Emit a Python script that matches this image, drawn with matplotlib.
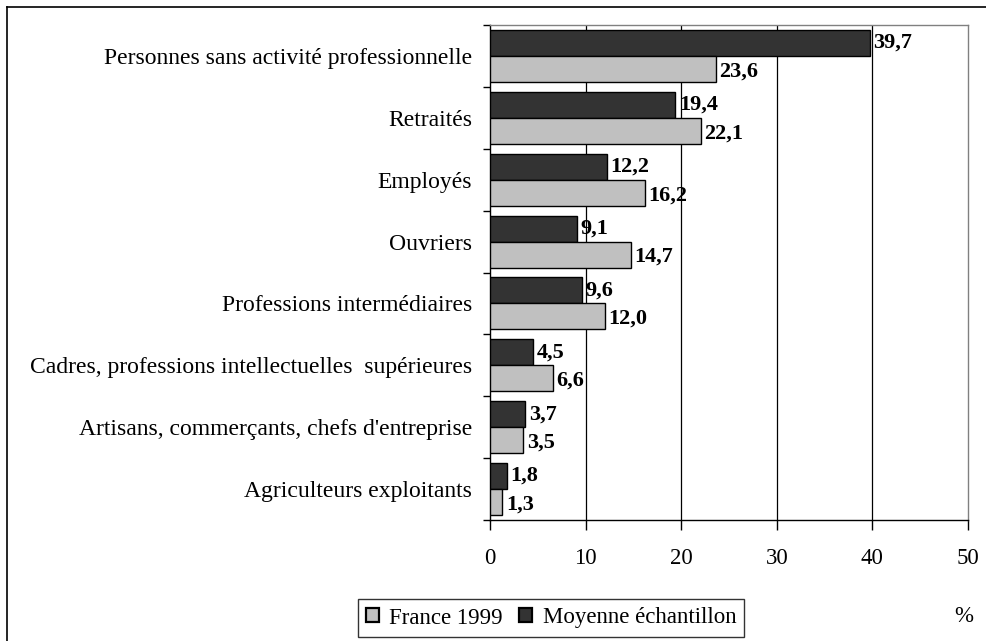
import matplotlib
matplotlib.use('Agg')
import matplotlib.pyplot as plt
from matplotlib.lines import Line2D
import numpy as np

plt.rcParams['font.family'] = ['Liberation Serif', 'DejaVu Serif']

categories = [
    'Personnes sans activité professionnelle',
    'Retraités',
    'Employés',
    'Ouvriers',
    'Professions intermédiaires',
    'Cadres, professions intellectuelles  supérieures',
    "Artisans, commerçants, chefs d'entreprise",
    'Agriculteurs exploitants',
]
moyenne = [39.7, 19.4, 12.2, 9.1, 9.6, 4.5, 3.7, 1.8]
france = [23.6, 22.1, 16.2, 14.7, 12.0, 6.6, 3.5, 1.3]
xticks = [0, 10, 20, 30, 40, 50]

fig = plt.figure(figsize=(9.86, 6.41), dpi=100)
ax = fig.add_axes([490 / 986, 1 - 520 / 641, 478 / 986, 495 / 641])

n = len(categories)
y = np.arange(n)
h = 0.42
# top category first
bars_m = ax.barh(y - h / 2, moyenne, height=h, color='#333333', edgecolor='black',
                 linewidth=1, label='Moyenne échantillon', zorder=3)
bars_f = ax.barh(y + h / 2, france, height=h, color='#c0c0c0', edgecolor='black',
                 linewidth=1, label='France 1999', zorder=3)

def fmt(v):
    return f'{v:.1f}'.replace('.', ',')

for b, v in zip(bars_m, moyenne):
    ax.text(v + 0.35, b.get_y() + b.get_height() / 2, fmt(v), va='center', ha='left',
            fontsize=16, fontweight='bold', zorder=4)
for b, v in zip(bars_f, france):
    ax.text(v + 0.35, b.get_y() + b.get_height() / 2 + 0.04, fmt(v), va='center', ha='left',
            fontsize=16, fontweight='bold', zorder=4)

ax.set_xlim(0, 50)
ax.set_ylim(n - 0.5, -0.5)
ax.set_xticks(xticks)
ax.set_xticklabels([str(t) for t in xticks], fontsize=16.5)
ax.tick_params(axis='x', direction='out', length=7, width=1, pad=13)

ax.set_yticks(y)
ax.set_yticklabels(categories, fontsize=17)
ax.tick_params(axis='y', which='major', length=0, pad=13)
ax.set_yticks(np.arange(n + 1) - 0.5, minor=True)
ax.tick_params(axis='y', which='minor', direction='out', length=5, width=1)

for t in xticks[1:-1]:
    ax.axvline(t, color='black', linewidth=0.9, zorder=1)

ax.spines['left'].set_color('black')
ax.spines['bottom'].set_color('black')
ax.spines['top'].set_color('#808080')
ax.spines['right'].set_color('#808080')
for s in ax.spines.values():
    s.set_linewidth(1)

handles = [bars_f, bars_m]
leg = fig.legend(handles, ['France 1999', 'Moyenne échantillon'], loc='center',
                 bbox_to_anchor=(551 / 986, 1 - 618 / 641), ncol=2, fontsize=16.5,
                 frameon=True, fancybox=False, edgecolor='black', handlelength=0.57,
                 handleheight=0.57, handletextpad=0.45, columnspacing=0.72, borderpad=0.35,
                 borderaxespad=0)
leg.get_frame().set_linewidth(1)
for p in leg.get_patches():
    p.set_linewidth(1.6)

fig.text(964 / 986, 1 - 617 / 641, '%', ha='center', va='center', fontsize=16.5)

# outer frame (top and left visible)
fig.add_artist(Line2D([7 / 986, 1.0], [1 - 7 / 641, 1 - 7 / 641], color='black',
                      linewidth=1.2, transform=fig.transFigure))
fig.add_artist(Line2D([7 / 986, 7 / 986], [0.0, 1 - 7 / 641], color='black',
                      linewidth=1.2, transform=fig.transFigure))

fig.savefig('out.png', dpi=100)
